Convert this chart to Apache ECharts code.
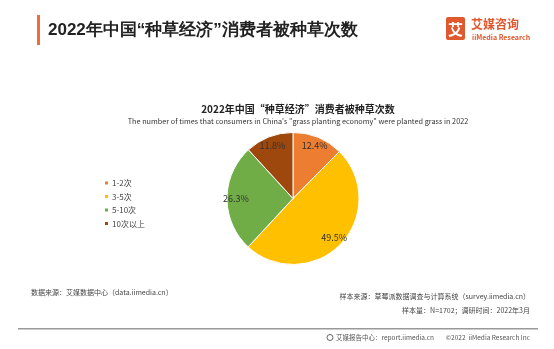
<!DOCTYPE html>
<html><head><meta charset="utf-8">
<script src="https://cdn.jsdelivr.net/npm/echarts@6/dist/echarts.min.js"></script>
<style>html,body{margin:0;padding:0;background:#fff}#c{width:554px;height:349px}</style>
</head><body><div id="c"></div>
<script>
var categories = ['1-2次', '3-5次', '5-10次', '10次以上'];
var values = [12.4, 49.5, 26.3, 11.8];
var colors = ['#ED7D31', '#FFC000', '#70AD47', '#9E480E'];

var FONT = '"Noto Sans CJK SC","Noto Sans",sans-serif';
var data = categories.map(function (c, i) { return { name: c, value: values[i], itemStyle: { color: colors[i] } }; });
var chart = echarts.init(document.getElementById('c'), null, { renderer: 'canvas' });
chart.setOption({
  animation: false,
  backgroundColor: '#fff',
  textStyle: { fontFamily: FONT },
  title: {
    text: '2022年中国“种草经济”消费者被种草次数',
    subtext: 'The number of times that consumers in China\'s "grass planting economy" were planted grass in 2022',
    left: 293, textAlign: 'center', top: 99, itemGap: 4,
    textStyle: { fontSize: 10, fontWeight: 'bold', color: '#222', fontFamily: FONT },
    subtextStyle: { fontSize: 7.3, color: '#333', fontFamily: FONT }
  },
  legend: {
    orient: 'vertical', left: 98, top: 174, itemWidth: 5, itemHeight: 5, itemGap: 5.5,
    icon: 'rect', data: categories,
    textStyle: { fontSize: 8, color: '#444', fontFamily: FONT, padding: [0, 0, 0, -2] }
  },
  series: [{
    type: 'pie', center: [293, 198.5], radius: [0, 66], startAngle: 90, clockwise: true,
    data: data, label: { show: false }, labelLine: { show: false },
    itemStyle: { borderColor: '#fff', borderWidth: 1 }, emphasis: { disabled: true }, silent: true
  }, {
    type: 'pie', center: [293, 198.5], radius: [42, 66], startAngle: 90, clockwise: true,
    data: values.map(function (v, i) { return { name: categories[i], value: v }; }),
    itemStyle: { color: 'rgba(0,0,0,0)' }, silent: true, emphasis: { disabled: true },
    legendHoverLink: false,
    label: { show: true, position: 'inside', formatter: function (p) { return p.value.toFixed(1) + '%'; },
      fontSize: 9, color: '#333', fontFamily: FONT },
    labelLine: { show: false }, tooltip: { show: false }
  }],
  graphic: [
    { type: 'rect', shape: { x: 37, y: 15, width: 3, height: 30 }, style: { fill: '#F26B3A' } },
    { type: 'text', x: 48, y: 30, style: { text: '2022年中国“种草经济”消费者被种草次数', fontSize: 17, fontWeight: 'bold', fill: '#222', font: 'bold 17px ' + FONT, textVerticalAlign: 'middle' } },
    { type: 'rect', shape: { x: 446, y: 17, width: 19, height: 23, r: 2 }, style: { fill: '#E0582E' } },
    { type: 'text', x: 455.5, y: 29, style: { text: '艾', font: 'bold 15px ' + FONT, fill: '#fff', textAlign: 'center', textVerticalAlign: 'middle' } },
    { type: 'text', x: 471, y: 24, style: { text: '艾媒咨询', font: 'bold 12px ' + FONT, fill: '#E0582E', textVerticalAlign: 'middle' } },
    { type: 'text', x: 472, y: 37, style: { text: 'iiMedia Research', font: 'bold 7px ' + FONT, fill: '#E0582E', textVerticalAlign: 'middle' } },
    { type: 'text', x: 31, y: 292, style: { text: '数据来源：艾媒数据中心（data.iimedia.cn）', font: '7px ' + FONT, fill: '#444', textVerticalAlign: 'middle' } },
    { type: 'text', x: 530, y: 296, style: { text: '样本来源：草莓派数据调查与计算系统（survey.iimedia.cn）', font: '7px ' + FONT, fill: '#444', textAlign: 'right', textVerticalAlign: 'middle' } },
    { type: 'text', x: 530, y: 310, style: { text: '样本量：N=1702；调研时间：2022年3月', font: '7px ' + FONT, fill: '#444', textAlign: 'right', textVerticalAlign: 'middle' } },
    { type: 'rect', shape: { x: 18, y: 328, width: 520, height: 1.5 }, style: { fill: '#999' } },
    { type: 'circle', shape: { cx: 330, cy: 337.5, r: 3 }, style: { fill: 'none', stroke: '#666', lineWidth: 1 } },
    { type: 'text', x: 336, y: 338, style: { text: '艾媒报告中心：report.iimedia.cn', font: '6.5px ' + FONT, fill: '#555', textVerticalAlign: 'middle' } },
    { type: 'text', x: 530, y: 338, style: { text: '©2022  iiMedia Research Inc', font: '6.5px ' + FONT, fill: '#555', textAlign: 'right', textVerticalAlign: 'middle' } }
  ]
});
</script></body></html>
